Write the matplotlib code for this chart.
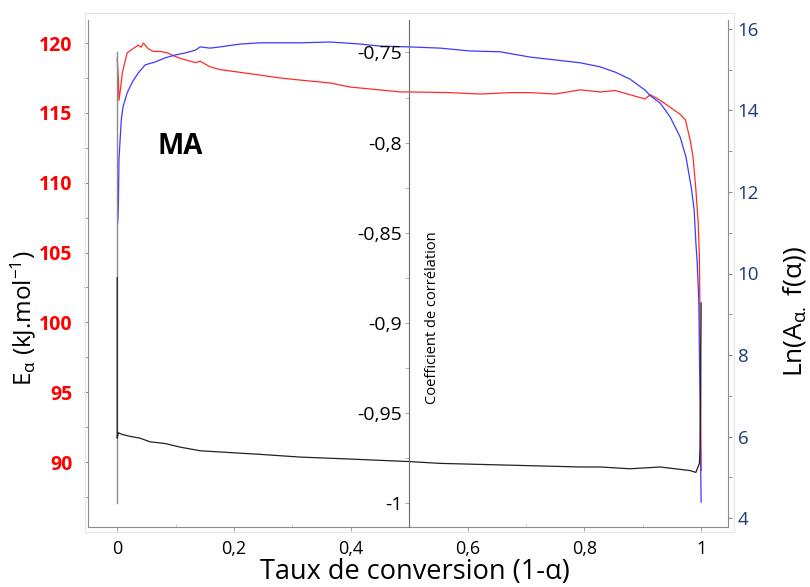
import numpy as np
import matplotlib
matplotlib.use("Agg")
import matplotlib.pyplot as plt
from matplotlib.ticker import FuncFormatter, MultipleLocator
from matplotlib.patches import Rectangle

plt.rcParams['font.family'] = ['Open Sans', 'DejaVu Sans']
plt.rcParams['mathtext.fontset'] = 'custom'
plt.rcParams['mathtext.rm'] = 'Open Sans'
plt.rcParams['mathtext.it'] = 'Open Sans:italic'

# énergie d'activation E_alpha (kJ/mol), axe gauche
x_ea = [0.0, 0.002, 0.003, 0.005, 0.009, 0.017, 0.027, 0.031, 0.036, 0.041, 0.045, 0.053,
        0.062, 0.074, 0.086, 0.096, 0.108, 0.134, 0.142, 0.159, 0.176, 0.211, 0.245, 0.279,
        0.313, 0.365, 0.399, 0.485, 0.5, 0.57, 0.622, 0.673, 0.707, 0.75, 0.793, 0.827,
        0.853, 0.878, 0.904, 0.913, 0.930, 0.947, 0.964, 0.973, 0.981, 0.986, 0.991, 0.995,
        0.997, 0.998, 0.999, 1.0]
ea = [118.9, 117.5, 115.9, 116.5, 117.9, 119.3, 119.6, 119.7, 119.85, 119.7, 120.0, 119.6,
      119.4, 119.4, 119.3, 119.1, 118.9, 118.6, 118.7, 118.3, 118.1, 117.9, 117.7, 117.5,
      117.35, 117.14, 116.85, 116.5, 116.5, 116.45, 116.35, 116.45, 116.45, 116.35, 116.65,
      116.5, 116.6, 116.3, 116.0, 116.3, 115.9, 115.4, 114.9, 114.5, 113.1, 111.9, 109.5,
      107.1, 104.8, 100.5, 96.0, 89.4]

# ln(A f(alpha)), axe droit
x_ln = [0.001, 0.002, 0.003, 0.007, 0.010, 0.017, 0.026, 0.036, 0.048, 0.065, 0.082,
        0.099, 0.116, 0.134, 0.142, 0.159, 0.176, 0.211, 0.245, 0.279, 0.313, 0.365, 0.416,
        0.450, 0.5, 0.553, 0.604, 0.656, 0.707, 0.793, 0.827, 0.853, 0.878, 0.904, 0.913,
        0.930, 0.947, 0.964, 0.974, 0.983, 0.988, 0.991, 0.993, 0.996, 0.998, 0.999, 1.0]
ln_af = [11.26, 11.63, 12.79, 13.77, 14.09, 14.43, 14.70, 14.92, 15.12, 15.19, 15.29,
         15.36, 15.41, 15.48, 15.56, 15.53, 15.56, 15.63, 15.66, 15.66, 15.66, 15.68, 15.63,
         15.58, 15.56, 15.53, 15.46, 15.44, 15.31, 15.17, 15.07, 14.94, 14.77, 14.50, 14.36,
         14.18, 13.84, 13.35, 12.86, 12.12, 11.56, 10.75, 10.33, 9.35, 6.9, 5.5, 4.39]

# coefficient de corrélation, axe du milieu
x_r = [0.0, 0.0, 0.002, 0.009, 0.022, 0.039, 0.056, 0.082, 0.108, 0.142, 0.193, 0.245,
       0.313, 0.399, 0.5, 0.553, 0.793, 0.827, 0.878, 0.930, 0.981, 0.991, 0.997, 0.998,
       0.999, 1.0]
r_corr = [-0.875, -0.964, -0.961, -0.962, -0.963, -0.964, -0.966, -0.967, -0.969, -0.971,
          -0.972, -0.973, -0.9745, -0.9756, -0.977, -0.978, -0.980, -0.980, -0.981, -0.980,
          -0.982, -0.983, -0.978, -0.971, -0.946, -0.889]
ref_x = [0.0, 0.0]
ref_y = [-1.0, -0.75]

x_ticks = [0, 0.2, 0.4, 0.6, 0.8, 1]
ea_ticks = [90, 95, 100, 105, 110, 115, 120]
ln_ticks = [4, 6, 8, 10, 12, 14, 16]
r_ticks = [-1, -0.95, -0.9, -0.85, -0.8, -0.75]

comma = FuncFormatter(lambda v, p: ('%g' % v).replace('.', ','))

fig = plt.figure(figsize=(8.1, 5.87), dpi=100)
# cadre très clair autour de la zone du graphique
fig.patches.append(Rectangle((85 / 810, 1 - 532 / 587), 649 / 810, 519 / 587,
                             transform=fig.transFigure, fill=False,
                             edgecolor='#e6e6e6', lw=0.8, zorder=0))
ax = fig.add_axes([88 / 810, 1 - 527 / 587, 640 / 810, 507 / 587])
ax.patch.set_alpha(0)
ax2 = ax.twinx()
ax3 = ax.twinx()

navy = '#1f3a78'
spine_col = '#8c8c8c'

ax3.plot(ref_x, ref_y, color='#8a8a8a', lw=1.0)
ax3.plot(x_r, r_corr, color='#222222', lw=0.9)
ax.plot(x_ea, ea, color='#ff2b2b', lw=0.9)
ax2.plot(x_ln, ln_af, color='#3b3bff', lw=0.9)

ax.set_xlim(-0.05, 1.046)
ax.set_ylim(85.35, 121.65)
ax2.set_ylim(3.78, 16.22)
ax3.set_ylim(-1.0133, -0.732)

ax.set_xticks(x_ticks)
ax.xaxis.set_major_formatter(comma)
ax.xaxis.set_minor_locator(MultipleLocator(0.1))
ax.set_yticks(ea_ticks)
ax.yaxis.set_minor_locator(MultipleLocator(2.5))
ax2.set_yticks(ln_ticks)
ax2.yaxis.set_minor_locator(MultipleLocator(1))
ax3.set_yticks(r_ticks)
ax3.yaxis.set_major_formatter(comma)
ax3.yaxis.set_minor_locator(MultipleLocator(0.025))

for s in ['top', 'right']:
    ax.spines[s].set_visible(False)
for s in ['top', 'left', 'bottom']:
    ax2.spines[s].set_visible(False)
for s in ['top', 'right', 'bottom']:
    ax3.spines[s].set_visible(False)
ax.spines['left'].set_color(spine_col)
ax.spines['bottom'].set_color(spine_col)
ax2.spines['right'].set_color(spine_col)
ax3.spines['left'].set_color('#6a6a6a')
ax3.spines['left'].set_position(('data', 0.5))
ax3.yaxis.tick_left()

ax.tick_params(axis='x', which='major', length=3, color='#aaaaaa', labelsize=13, pad=6)
ax.tick_params(axis='x', which='minor', length=2, direction='in', color='#cccccc')
ax.tick_params(axis='y', which='both', length=3, color=spine_col, labelsize=14,
               labelcolor='#ff0000', pad=8)
for t in ax.get_yticklabels():
    t.set_fontweight('bold')
ax2.tick_params(axis='y', which='both', length=3, color=spine_col, labelsize=13.5,
                labelcolor=navy, pad=4)
ax3.tick_params(axis='y', which='both', length=3, color='#aaaaaa', labelsize=14,
                labelcolor='black', pad=2)

fig.text(23 / 810, 1 - 318 / 587, r'E$_{\mathrm{α}}$ (kJ.mol$^{\mathrm{-1}}$)', rotation=90,
         ha='center', va='center', fontsize=17.5)
fig.text(795 / 810, 1 - 312 / 587, r'Ln(A$_{\mathrm{α.}}$ f(α))', rotation=90,
         ha='center', va='center', fontsize=19)
fig.text(415 / 810, 1 - 579 / 587, 'Taux de conversion (1-α)', ha='center', va='baseline',
         fontsize=19.5)
fig.text(432 / 810, 1 - 318 / 587, 'Coefficient de corrélation', rotation=90,
         ha='center', va='center', fontsize=10.5)
fig.text(180 / 810, 1 - 147 / 587, 'MA', ha='center', va='center', fontsize=20,
         fontweight='bold')

fig.savefig('out.png', dpi=100)
